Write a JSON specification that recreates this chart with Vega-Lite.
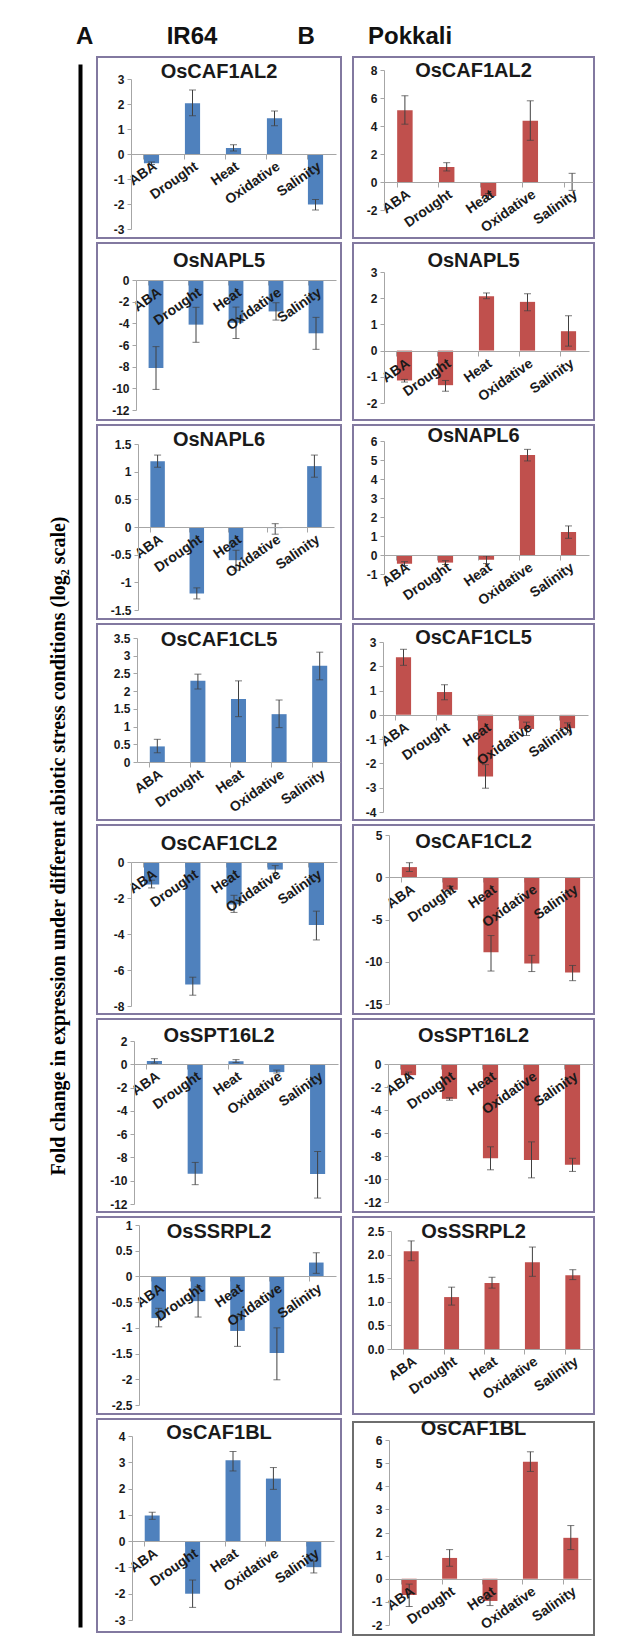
{
"$schema": "https://vega.github.io/schema/vega-lite/v6.json",
"padding": {"left": 48, "top": 25, "right": 5, "bottom": 5},
"title": {"text": "A\u00a0\u00a0\u00a0\u00a0\u00a0\u00a0\u00a0\u00a0\u00a0\u00a0\u00a0IR64\u00a0\u00a0\u00a0\u00a0\u00a0\u00a0\u00a0\u00a0\u00a0\u00a0\u00a0\u00a0B\u00a0\u00a0\u00a0\u00a0\u00a0\u00a0\u00a0\u00a0Pokkali", "anchor": "start", "dx": 28, "offset": 7, "fontSize": 24, "color": "#111111"},
"datasets": {"d": [
{"p":"A1","c":"ABA","v":-0.37,"lo":-0.42,"hi":-0.32},
{"p":"A1","c":"Drought","v":2.03,"lo":1.53,"hi":2.56},
{"p":"A1","c":"Heat","v":0.24,"lo":0.12,"hi":0.37},
{"p":"A1","c":"Oxidative","v":1.43,"lo":1.13,"hi":1.72},
{"p":"A1","c":"Salinity","v":-2.02,"lo":-2.24,"hi":-1.82},
{"p":"B1","c":"ABA","v":5.13,"lo":4.13,"hi":6.16},
{"p":"B1","c":"Drought","v":1.07,"lo":0.79,"hi":1.38},
{"p":"B1","c":"Heat","v":-1.0,"lo":-1.18,"hi":-0.82},
{"p":"B1","c":"Oxidative","v":4.37,"lo":2.98,"hi":5.8},
{"p":"B1","c":"Salinity","v":0,"lo":-0.6,"hi":0.62},
{"p":"A2","c":"ABA","v":-8.12,"lo":-10.1,"hi":-6.15},
{"p":"A2","c":"Drought","v":-4.12,"lo":-5.75,"hi":-2.52},
{"p":"A2","c":"Heat","v":-3.95,"lo":-5.4,"hi":-2.5},
{"p":"A2","c":"Oxidative","v":-2.9,"lo":-3.7,"hi":-2.1},
{"p":"A2","c":"Salinity","v":-4.92,"lo":-6.4,"hi":-3.45},
{"p":"B2","c":"ABA","v":-1.14,"lo":-1.2,"hi":-1.1},
{"p":"B2","c":"Drought","v":-1.32,"lo":-1.55,"hi":-1.14},
{"p":"B2","c":"Heat","v":2.07,"lo":1.98,"hi":2.2},
{"p":"B2","c":"Oxidative","v":1.86,"lo":1.52,"hi":2.17},
{"p":"B2","c":"Salinity","v":0.74,"lo":0.17,"hi":1.33},
{"p":"A3","c":"ABA","v":1.19,"lo":1.08,"hi":1.3},
{"p":"A3","c":"Drought","v":-1.2,"lo":-1.3,"hi":-1.1},
{"p":"A3","c":"Heat","v":-0.6,"lo":-0.78,"hi":-0.42},
{"p":"A3","c":"Oxidative","v":-0.02,"lo":-0.13,"hi":0.06},
{"p":"A3","c":"Salinity","v":1.1,"lo":0.9,"hi":1.3},
{"p":"B3","c":"ABA","v":-0.46,"lo":-0.55,"hi":-0.35},
{"p":"B3","c":"Drought","v":-0.4,"lo":-0.5,"hi":-0.3},
{"p":"B3","c":"Heat","v":-0.25,"lo":-0.45,"hi":-0.05},
{"p":"B3","c":"Oxidative","v":5.26,"lo":4.95,"hi":5.56},
{"p":"B3","c":"Salinity","v":1.21,"lo":0.88,"hi":1.53},
{"p":"A4","c":"ABA","v":0.44,"lo":0.26,"hi":0.64},
{"p":"A4","c":"Drought","v":2.29,"lo":2.06,"hi":2.48},
{"p":"A4","c":"Heat","v":1.78,"lo":1.28,"hi":2.29},
{"p":"A4","c":"Oxidative","v":1.35,"lo":0.97,"hi":1.75},
{"p":"A4","c":"Salinity","v":2.72,"lo":2.32,"hi":3.1},
{"p":"B4","c":"ABA","v":2.37,"lo":2.04,"hi":2.7},
{"p":"B4","c":"Drought","v":0.94,"lo":0.62,"hi":1.24},
{"p":"B4","c":"Heat","v":-2.54,"lo":-3.02,"hi":-2.05},
{"p":"B4","c":"Oxidative","v":-0.58,"lo":-0.85,"hi":-0.3},
{"p":"B4","c":"Salinity","v":-0.55,"lo":-0.74,"hi":-0.33},
{"p":"A5","c":"ABA","v":-1.25,"lo":-1.44,"hi":-1.01},
{"p":"A5","c":"Drought","v":-6.8,"lo":-7.4,"hi":-6.4},
{"p":"A5","c":"Heat","v":-2.36,"lo":-2.8,"hi":-1.85},
{"p":"A5","c":"Oxidative","v":-0.42,"lo":-0.62,"hi":-0.2},
{"p":"A5","c":"Salinity","v":-3.5,"lo":-4.33,"hi":-2.73},
{"p":"B5","c":"ABA","v":1.2,"lo":0.68,"hi":1.72},
{"p":"B5","c":"Drought","v":-1.48,"lo":-1.9,"hi":-1.05},
{"p":"B5","c":"Heat","v":-8.88,"lo":-11.1,"hi":-6.9},
{"p":"B5","c":"Oxidative","v":-10.2,"lo":-11.16,"hi":-9.24},
{"p":"B5","c":"Salinity","v":-11.28,"lo":-12.24,"hi":-10.44},
{"p":"A6","c":"ABA","v":0.29,"lo":0.1,"hi":0.48},
{"p":"A6","c":"Drought","v":-9.4,"lo":-10.34,"hi":-8.43},
{"p":"A6","c":"Heat","v":0.26,"lo":0.15,"hi":0.4},
{"p":"A6","c":"Oxidative","v":-0.67,"lo":-0.75,"hi":-0.5},
{"p":"A6","c":"Salinity","v":-9.43,"lo":-11.49,"hi":-7.49},
{"p":"B6","c":"ABA","v":-0.97,"lo":-1.2,"hi":-0.7},
{"p":"B6","c":"Drought","v":-3.03,"lo":-3.15,"hi":-2.94},
{"p":"B6","c":"Heat","v":-8.2,"lo":-9.2,"hi":-7.2},
{"p":"B6","c":"Oxidative","v":-8.34,"lo":-9.9,"hi":-6.77},
{"p":"B6","c":"Salinity","v":-8.77,"lo":-9.34,"hi":-8.2},
{"p":"A7","c":"ABA","v":-0.81,"lo":-0.98,"hi":-0.62},
{"p":"A7","c":"Drought","v":-0.48,"lo":-0.79,"hi":-0.2},
{"p":"A7","c":"Heat","v":-1.06,"lo":-1.36,"hi":-0.77},
{"p":"A7","c":"Oxidative","v":-1.49,"lo":-2.01,"hi":-1.0},
{"p":"A7","c":"Salinity","v":0.27,"lo":0.06,"hi":0.46},
{"p":"B7","c":"ABA","v":2.07,"lo":1.87,"hi":2.29},
{"p":"B7","c":"Drought","v":1.1,"lo":0.93,"hi":1.31},
{"p":"B7","c":"Heat","v":1.4,"lo":1.29,"hi":1.52},
{"p":"B7","c":"Oxidative","v":1.84,"lo":1.54,"hi":2.16},
{"p":"B7","c":"Salinity","v":1.56,"lo":1.47,"hi":1.68},
{"p":"A8","c":"ABA","v":0.98,"lo":0.83,"hi":1.1},
{"p":"A8","c":"Drought","v":-2.0,"lo":-2.52,"hi":-1.48},
{"p":"A8","c":"Heat","v":3.08,"lo":2.67,"hi":3.41},
{"p":"A8","c":"Oxidative","v":2.38,"lo":1.97,"hi":2.8},
{"p":"A8","c":"Salinity","v":-0.99,"lo":-1.21,"hi":-0.76},
{"p":"B8","c":"ABA","v":-0.7,"lo":-1.2,"hi":-0.23},
{"p":"B8","c":"Drought","v":0.9,"lo":0.54,"hi":1.26},
{"p":"B8","c":"Heat","v":-0.96,"lo":-1.16,"hi":-0.75},
{"p":"B8","c":"Oxidative","v":5.06,"lo":4.64,"hi":5.49},
{"p":"B8","c":"Salinity","v":1.77,"lo":1.26,"hi":2.3}
]},
"data": {"name": "d"},
"spacing": 10,
"hconcat": [
{
 "width": 6, "height": 1572,
 "data": {"values": [{"z": 0}]},
 "view": {"stroke": null},
 "mark": {"type": "rule", "opacity": 0},
 "encoding": {"y": {"field": "z", "type": "quantitative", "scale": {"domain": [0, 1], "range": [1570, 7]}, "axis": {"title": "Fold change in expression under different abiotic stress conditions (log\u2082 scale)", "domainColor": "#000000", "domainWidth": 4, "ticks": false, "labels": false, "titleFont": "Liberation Serif", "titleFontSize": 20, "titleFontWeight": "bold", "titleColor": "#000000", "titlePadding": 12}}}
},
{"spacing": 3, "vconcat": [
{"title": {"text": "OsCAF1AL2", "offset": -25}, "width": 244, "height": 181,
 "transform": [{"filter": "datum.p == 'A1'"}], "resolve": {"axis": {"x": "independent"}},
 "layer": [
  {"mark": {"type": "bar", "color": "#4f81bd"}, "encoding": {
    "x": {"field": "c", "type": "nominal", "scale": {"domain": ["ABA","Drought","Heat","Oxidative","Salinity"], "range": [34, 239], "paddingInner": 0.63, "paddingOuter": 0.315}, "axis": {"orient": "bottom", "offset": -84, "ticks": false, "labelAngle": -35, "zindex": 1, "title": null}},
    "y": {"field": "v", "type": "quantitative", "scale": {"domain": [-3, 3], "range": [172, 22], "nice": false, "zero": false}, "axis": {"orient": "left", "values": [-3,-2,-1,0,1,2,3], "offset": -34, "format": "~g", "zindex": 1, "title": null}}}},
  {"mark": {"type": "errorbar", "ticks": {"size": 7}, "color": "#404040", "thickness": 1}, "encoding": {
    "x": {"field": "c", "type": "nominal", "axis": {"orient": "bottom", "offset": -84, "labels": false, "domain": false, "bandPosition": 0, "tickSize": 5, "title": null}},
    "y": {"field": "lo", "type": "quantitative", "axis": {"orient": "left", "values": [-3,-2,-1,0,1,2,3], "offset": -34, "format": "~g", "zindex": 1, "title": null}}, "y2": {"field": "hi"}}}
 ]},
{"title": {"text": "OsNAPL5", "offset": -28}, "width": 244, "height": 177,
 "transform": [{"filter": "datum.p == 'A2'"}], "resolve": {"axis": {"x": "independent"}},
 "layer": [
  {"mark": {"type": "bar", "color": "#4f81bd"}, "encoding": {
    "x": {"field": "c", "type": "nominal", "scale": {"domain": ["ABA","Drought","Heat","Oxidative","Salinity"], "range": [39, 239], "paddingInner": 0.63, "paddingOuter": 0.315}, "axis": {"orient": "bottom", "offset": -140, "ticks": false, "labelAngle": -35, "zindex": 1, "title": null}},
    "y": {"field": "v", "type": "quantitative", "scale": {"domain": [-12, 0], "range": [167, 37], "nice": false, "zero": false}, "axis": {"orient": "left", "values": [-12,-10,-8,-6,-4,-2,0], "offset": -39, "format": "~g", "zindex": 1, "title": null}}}},
  {"mark": {"type": "errorbar", "ticks": {"size": 7}, "color": "#404040", "thickness": 1}, "encoding": {
    "x": {"field": "c", "type": "nominal", "axis": {"orient": "bottom", "offset": -140, "labels": false, "domain": false, "bandPosition": 0, "tickSize": 5, "title": null}},
    "y": {"field": "lo", "type": "quantitative", "axis": {"orient": "left", "values": [-12,-10,-8,-6,-4,-2,0], "offset": -39, "format": "~g", "zindex": 1, "title": null}}, "y2": {"field": "hi"}}}
 ]},
{"title": {"text": "OsNAPL6", "offset": -25}, "width": 244, "height": 194,
 "transform": [{"filter": "datum.p == 'A3'"}], "resolve": {"axis": {"x": "independent"}},
 "layer": [
  {"mark": {"type": "bar", "color": "#4f81bd"}, "encoding": {
    "x": {"field": "c", "type": "nominal", "scale": {"domain": ["ABA","Drought","Heat","Oxidative","Salinity"], "range": [41, 237], "paddingInner": 0.63, "paddingOuter": 0.315}, "axis": {"orient": "bottom", "offset": -92, "ticks": false, "labelAngle": -35, "zindex": 1, "title": null}},
    "y": {"field": "v", "type": "quantitative", "scale": {"domain": [-1.5, 1.5], "range": [185, 19], "nice": false, "zero": false}, "axis": {"orient": "left", "values": [-1.5,-1,-0.5,0,0.5,1,1.5], "offset": -41, "format": "~g", "zindex": 1, "title": null}}}},
  {"mark": {"type": "errorbar", "ticks": {"size": 7}, "color": "#404040", "thickness": 1}, "encoding": {
    "x": {"field": "c", "type": "nominal", "axis": {"orient": "bottom", "offset": -92, "labels": false, "domain": false, "bandPosition": 0, "tickSize": 5, "title": null}},
    "y": {"field": "lo", "type": "quantitative", "axis": {"orient": "left", "values": [-1.5,-1,-0.5,0,0.5,1,1.5], "offset": -41, "format": "~g", "zindex": 1, "title": null}}, "y2": {"field": "hi"}}}
 ]},
{"title": {"text": "OsCAF1CL5", "offset": -26}, "width": 244, "height": 196,
 "transform": [{"filter": "datum.p == 'A4'"}], "resolve": {"axis": {"x": "independent"}},
 "layer": [
  {"mark": {"type": "bar", "color": "#4f81bd"}, "encoding": {
    "x": {"field": "c", "type": "nominal", "scale": {"domain": ["ABA","Drought","Heat","Oxidative","Salinity"], "range": [40, 243], "paddingInner": 0.63, "paddingOuter": 0.315}, "axis": {"orient": "bottom", "offset": -58, "ticks": false, "labelAngle": -35, "zindex": 1, "title": null}},
    "y": {"field": "v", "type": "quantitative", "scale": {"domain": [0, 3.5], "range": [138, 14], "nice": false, "zero": false}, "axis": {"orient": "left", "values": [0,0.5,1,1.5,2,2.5,3,3.5], "offset": -40, "format": "~g", "zindex": 1, "title": null}}}},
  {"mark": {"type": "errorbar", "ticks": {"size": 7}, "color": "#404040", "thickness": 1}, "encoding": {
    "x": {"field": "c", "type": "nominal", "axis": {"orient": "bottom", "offset": -58, "labels": false, "domain": false, "bandPosition": 0, "tickSize": 5, "title": null}},
    "y": {"field": "lo", "type": "quantitative", "axis": {"orient": "left", "values": [0,0.5,1,1.5,2,2.5,3,3.5], "offset": -40, "format": "~g", "zindex": 1, "title": null}}, "y2": {"field": "hi"}}}
 ]},
{"title": {"text": "OsCAF1CL2", "offset": -29}, "width": 244, "height": 189,
 "transform": [{"filter": "datum.p == 'A5'"}], "resolve": {"axis": {"x": "independent"}},
 "layer": [
  {"mark": {"type": "bar", "color": "#4f81bd"}, "encoding": {
    "x": {"field": "c", "type": "nominal", "scale": {"domain": ["ABA","Drought","Heat","Oxidative","Salinity"], "range": [34, 240], "paddingInner": 0.63, "paddingOuter": 0.315}, "axis": {"orient": "bottom", "offset": -152, "ticks": false, "labelAngle": -35, "zindex": 1, "title": null}},
    "y": {"field": "v", "type": "quantitative", "scale": {"domain": [-8, 0], "range": [181, 37], "nice": false, "zero": false}, "axis": {"orient": "left", "values": [-8,-6,-4,-2,0], "offset": -34, "format": "~g", "zindex": 1, "title": null}}}},
  {"mark": {"type": "errorbar", "ticks": {"size": 7}, "color": "#404040", "thickness": 1}, "encoding": {
    "x": {"field": "c", "type": "nominal", "axis": {"orient": "bottom", "offset": -152, "labels": false, "domain": false, "bandPosition": 0, "tickSize": 5, "title": null}},
    "y": {"field": "lo", "type": "quantitative", "axis": {"orient": "left", "values": [-8,-6,-4,-2,0], "offset": -34, "format": "~g", "zindex": 1, "title": null}}, "y2": {"field": "hi"}}}
 ]},
{"title": {"text": "OsSPT16L2", "offset": -27}, "width": 244, "height": 193,
 "transform": [{"filter": "datum.p == 'A6'"}], "resolve": {"axis": {"x": "independent"}},
 "layer": [
  {"mark": {"type": "bar", "color": "#4f81bd"}, "encoding": {
    "x": {"field": "c", "type": "nominal", "scale": {"domain": ["ABA","Drought","Heat","Oxidative","Salinity"], "range": [37, 241], "paddingInner": 0.63, "paddingOuter": 0.315}, "axis": {"orient": "bottom", "offset": -148, "ticks": false, "labelAngle": -35, "zindex": 1, "title": null}},
    "y": {"field": "v", "type": "quantitative", "scale": {"domain": [-12, 2], "range": [185, 22], "nice": false, "zero": false}, "axis": {"orient": "left", "values": [-12,-10,-8,-6,-4,-2,0,2], "offset": -37, "format": "~g", "zindex": 1, "title": null}}}},
  {"mark": {"type": "errorbar", "ticks": {"size": 7}, "color": "#404040", "thickness": 1}, "encoding": {
    "x": {"field": "c", "type": "nominal", "axis": {"orient": "bottom", "offset": -148, "labels": false, "domain": false, "bandPosition": 0, "tickSize": 5, "title": null}},
    "y": {"field": "lo", "type": "quantitative", "axis": {"orient": "left", "values": [-12,-10,-8,-6,-4,-2,0,2], "offset": -37, "format": "~g", "zindex": 1, "title": null}}, "y2": {"field": "hi"}}}
 ]},
{"title": {"text": "OsSSRPL2", "offset": -25}, "width": 244, "height": 197,
 "transform": [{"filter": "datum.p == 'A7'"}], "resolve": {"axis": {"x": "independent"}},
 "layer": [
  {"mark": {"type": "bar", "color": "#4f81bd"}, "encoding": {
    "x": {"field": "c", "type": "nominal", "scale": {"domain": ["ABA","Drought","Heat","Oxidative","Salinity"], "range": [42, 239], "paddingInner": 0.63, "paddingOuter": 0.315}, "axis": {"orient": "bottom", "offset": -138, "ticks": false, "labelAngle": -35, "zindex": 1, "title": null}},
    "y": {"field": "v", "type": "quantitative", "scale": {"domain": [-2.5, 1], "range": [188, 8], "nice": false, "zero": false}, "axis": {"orient": "left", "values": [-2.5,-2,-1.5,-1,-0.5,0,0.5,1], "offset": -42, "format": "~g", "zindex": 1, "title": null}}}},
  {"mark": {"type": "errorbar", "ticks": {"size": 7}, "color": "#404040", "thickness": 1}, "encoding": {
    "x": {"field": "c", "type": "nominal", "axis": {"orient": "bottom", "offset": -138, "labels": false, "domain": false, "bandPosition": 0, "tickSize": 5, "title": null}},
    "y": {"field": "lo", "type": "quantitative", "axis": {"orient": "left", "values": [-2.5,-2,-1.5,-1,-0.5,0,0.5,1], "offset": -42, "format": "~g", "zindex": 1, "title": null}}, "y2": {"field": "hi"}}}
 ]},
{"title": {"text": "OsCAF1BL", "offset": -24}, "width": 244, "height": 213,
 "transform": [{"filter": "datum.p == 'A8'"}], "resolve": {"axis": {"x": "independent"}},
 "layer": [
  {"mark": {"type": "bar", "color": "#4f81bd"}, "encoding": {
    "x": {"field": "c", "type": "nominal", "scale": {"domain": ["ABA","Drought","Heat","Oxidative","Salinity"], "range": [35, 237], "paddingInner": 0.63, "paddingOuter": 0.315}, "axis": {"orient": "bottom", "offset": -91, "ticks": false, "labelAngle": -35, "zindex": 1, "title": null}},
    "y": {"field": "v", "type": "quantitative", "scale": {"domain": [-3, 4], "range": [201, 17], "nice": false, "zero": false}, "axis": {"orient": "left", "values": [-3,-2,-1,0,1,2,3,4], "offset": -35, "format": "~g", "zindex": 1, "title": null}}}},
  {"mark": {"type": "errorbar", "ticks": {"size": 7}, "color": "#404040", "thickness": 1}, "encoding": {
    "x": {"field": "c", "type": "nominal", "axis": {"orient": "bottom", "offset": -91, "labels": false, "domain": false, "bandPosition": 0, "tickSize": 5, "title": null}},
    "y": {"field": "lo", "type": "quantitative", "axis": {"orient": "left", "values": [-3,-2,-1,0,1,2,3,4], "offset": -35, "format": "~g", "zindex": 1, "title": null}}, "y2": {"field": "hi"}}}
 ]}
]},
{"spacing": 3, "vconcat": [
{"title": {"text": "OsCAF1AL2", "offset": -24}, "width": 241, "height": 181,
 "transform": [{"filter": "datum.p == 'B1'"}], "resolve": {"axis": {"x": "independent"}},
 "layer": [
  {"mark": {"type": "bar", "color": "#c0504d"}, "encoding": {
    "x": {"field": "c", "type": "nominal", "scale": {"domain": ["ABA","Drought","Heat","Oxidative","Salinity"], "range": [31, 240], "paddingInner": 0.63, "paddingOuter": 0.315}, "axis": {"orient": "bottom", "offset": -56, "ticks": false, "labelAngle": -35, "zindex": 1, "title": null}},
    "y": {"field": "v", "type": "quantitative", "scale": {"domain": [-2, 8], "range": [153, 13], "nice": false, "zero": false}, "axis": {"orient": "left", "values": [-2,0,2,4,6,8], "offset": -31, "format": "~g", "zindex": 1, "title": null}}}},
  {"mark": {"type": "errorbar", "ticks": {"size": 7}, "color": "#404040", "thickness": 1}, "encoding": {
    "x": {"field": "c", "type": "nominal", "axis": {"orient": "bottom", "offset": -56, "labels": false, "domain": false, "bandPosition": 0, "tickSize": 5, "title": null}},
    "y": {"field": "lo", "type": "quantitative", "axis": {"orient": "left", "values": [-2,0,2,4,6,8], "offset": -31, "format": "~g", "zindex": 1, "title": null}}, "y2": {"field": "hi"}}}
 ]},
{"title": {"text": "OsNAPL5", "offset": -28}, "width": 241, "height": 177,
 "transform": [{"filter": "datum.p == 'B2'"}], "resolve": {"axis": {"x": "independent"}},
 "layer": [
  {"mark": {"type": "bar", "color": "#c0504d"}, "encoding": {
    "x": {"field": "c", "type": "nominal", "scale": {"domain": ["ABA","Drought","Heat","Oxidative","Salinity"], "range": [31, 236], "paddingInner": 0.63, "paddingOuter": 0.315}, "axis": {"orient": "bottom", "offset": -69, "ticks": false, "labelAngle": -35, "zindex": 1, "title": null}},
    "y": {"field": "v", "type": "quantitative", "scale": {"domain": [-2, 3], "range": [160, 29], "nice": false, "zero": false}, "axis": {"orient": "left", "values": [-2,-1,0,1,2,3], "offset": -31, "format": "~g", "zindex": 1, "title": null}}}},
  {"mark": {"type": "errorbar", "ticks": {"size": 7}, "color": "#404040", "thickness": 1}, "encoding": {
    "x": {"field": "c", "type": "nominal", "axis": {"orient": "bottom", "offset": -69, "labels": false, "domain": false, "bandPosition": 0, "tickSize": 5, "title": null}},
    "y": {"field": "lo", "type": "quantitative", "axis": {"orient": "left", "values": [-2,-1,0,1,2,3], "offset": -31, "format": "~g", "zindex": 1, "title": null}}, "y2": {"field": "hi"}}}
 ]},
{"title": {"text": "OsNAPL6", "offset": -21}, "width": 241, "height": 194,
 "transform": [{"filter": "datum.p == 'B3'"}], "resolve": {"axis": {"x": "independent"}},
 "layer": [
  {"mark": {"type": "bar", "color": "#c0504d"}, "encoding": {
    "x": {"field": "c", "type": "nominal", "scale": {"domain": ["ABA","Drought","Heat","Oxidative","Salinity"], "range": [31, 236], "paddingInner": 0.63, "paddingOuter": 0.315}, "axis": {"orient": "bottom", "offset": -64, "ticks": false, "labelAngle": -35, "zindex": 1, "title": null}},
    "y": {"field": "v", "type": "quantitative", "scale": {"domain": [-1, 6], "range": [149, 16], "nice": false, "zero": false}, "axis": {"orient": "left", "values": [-1,0,1,2,3,4,5,6], "offset": -31, "format": "~g", "zindex": 1, "title": null}}}},
  {"mark": {"type": "errorbar", "ticks": {"size": 7}, "color": "#404040", "thickness": 1}, "encoding": {
    "x": {"field": "c", "type": "nominal", "axis": {"orient": "bottom", "offset": -64, "labels": false, "domain": false, "bandPosition": 0, "tickSize": 5, "title": null}},
    "y": {"field": "lo", "type": "quantitative", "axis": {"orient": "left", "values": [-1,0,1,2,3,4,5,6], "offset": -31, "format": "~g", "zindex": 1, "title": null}}, "y2": {"field": "hi"}}}
 ]},
{"title": {"text": "OsCAF1CL5", "offset": -24}, "width": 241, "height": 196,
 "transform": [{"filter": "datum.p == 'B4'"}], "resolve": {"axis": {"x": "independent"}},
 "layer": [
  {"mark": {"type": "bar", "color": "#c0504d"}, "encoding": {
    "x": {"field": "c", "type": "nominal", "scale": {"domain": ["ABA","Drought","Heat","Oxidative","Salinity"], "range": [30, 235], "paddingInner": 0.63, "paddingOuter": 0.315}, "axis": {"orient": "bottom", "offset": -105, "ticks": false, "labelAngle": -35, "zindex": 1, "title": null}},
    "y": {"field": "v", "type": "quantitative", "scale": {"domain": [-4, 3], "range": [188, 18], "nice": false, "zero": false}, "axis": {"orient": "left", "values": [-4,-3,-2,-1,0,1,2,3], "offset": -30, "format": "~g", "zindex": 1, "title": null}}}},
  {"mark": {"type": "errorbar", "ticks": {"size": 7}, "color": "#404040", "thickness": 1}, "encoding": {
    "x": {"field": "c", "type": "nominal", "axis": {"orient": "bottom", "offset": -105, "labels": false, "domain": false, "bandPosition": 0, "tickSize": 5, "title": null}},
    "y": {"field": "lo", "type": "quantitative", "axis": {"orient": "left", "values": [-4,-3,-2,-1,0,1,2,3], "offset": -30, "format": "~g", "zindex": 1, "title": null}}, "y2": {"field": "hi"}}}
 ]},
{"title": {"text": "OsCAF1CL2", "offset": -27}, "width": 241, "height": 189,
 "transform": [{"filter": "datum.p == 'B5'"}], "resolve": {"axis": {"x": "independent"}},
 "layer": [
  {"mark": {"type": "bar", "color": "#c0504d"}, "encoding": {
    "x": {"field": "c", "type": "nominal", "scale": {"domain": ["ABA","Drought","Heat","Oxidative","Salinity"], "range": [36, 240], "paddingInner": 0.63, "paddingOuter": 0.315}, "axis": {"orient": "bottom", "offset": -137, "ticks": false, "labelAngle": -35, "zindex": 1, "title": null}},
    "y": {"field": "v", "type": "quantitative", "scale": {"domain": [-15, 5], "range": [179, 10], "nice": false, "zero": false}, "axis": {"orient": "left", "values": [-15,-10,-5,0,5], "offset": -36, "format": "~g", "zindex": 1, "title": null}}}},
  {"mark": {"type": "errorbar", "ticks": {"size": 7}, "color": "#404040", "thickness": 1}, "encoding": {
    "x": {"field": "c", "type": "nominal", "axis": {"orient": "bottom", "offset": -137, "labels": false, "domain": false, "bandPosition": 0, "tickSize": 5, "title": null}},
    "y": {"field": "lo", "type": "quantitative", "axis": {"orient": "left", "values": [-15,-10,-5,0,5], "offset": -36, "format": "~g", "zindex": 1, "title": null}}, "y2": {"field": "hi"}}}
 ]},
{"title": {"text": "OsSPT16L2", "offset": -27}, "width": 241, "height": 193,
 "transform": [{"filter": "datum.p == 'B6'"}], "resolve": {"axis": {"x": "independent"}},
 "layer": [
  {"mark": {"type": "bar", "color": "#c0504d"}, "encoding": {
    "x": {"field": "c", "type": "nominal", "scale": {"domain": ["ABA","Drought","Heat","Oxidative","Salinity"], "range": [35, 240], "paddingInner": 0.63, "paddingOuter": 0.315}, "axis": {"orient": "bottom", "offset": -148, "ticks": false, "labelAngle": -35, "zindex": 1, "title": null}},
    "y": {"field": "v", "type": "quantitative", "scale": {"domain": [-12, 0], "range": [183, 45], "nice": false, "zero": false}, "axis": {"orient": "left", "values": [-12,-10,-8,-6,-4,-2,0], "offset": -35, "format": "~g", "zindex": 1, "title": null}}}},
  {"mark": {"type": "errorbar", "ticks": {"size": 7}, "color": "#404040", "thickness": 1}, "encoding": {
    "x": {"field": "c", "type": "nominal", "axis": {"orient": "bottom", "offset": -148, "labels": false, "domain": false, "bandPosition": 0, "tickSize": 5, "title": null}},
    "y": {"field": "lo", "type": "quantitative", "axis": {"orient": "left", "values": [-12,-10,-8,-6,-4,-2,0], "offset": -35, "format": "~g", "zindex": 1, "title": null}}, "y2": {"field": "hi"}}}
 ]},
{"title": {"text": "OsSSRPL2", "offset": -25}, "width": 241, "height": 197,
 "transform": [{"filter": "datum.p == 'B7'"}], "resolve": {"axis": {"x": "independent"}},
 "layer": [
  {"mark": {"type": "bar", "color": "#c0504d"}, "encoding": {
    "x": {"field": "c", "type": "nominal", "scale": {"domain": ["ABA","Drought","Heat","Oxidative","Salinity"], "range": [38, 240], "paddingInner": 0.63, "paddingOuter": 0.315}, "axis": {"orient": "bottom", "offset": -65, "ticks": false, "labelAngle": -35, "zindex": 1, "title": null}},
    "y": {"field": "v", "type": "quantitative", "scale": {"domain": [0, 2.5], "range": [132, 14], "nice": false, "zero": false}, "axis": {"orient": "left", "values": [0,0.5,1,1.5,2,2.5], "offset": -38, "format": ".1f", "zindex": 1, "title": null}}}},
  {"mark": {"type": "errorbar", "ticks": {"size": 7}, "color": "#404040", "thickness": 1}, "encoding": {
    "x": {"field": "c", "type": "nominal", "axis": {"orient": "bottom", "offset": -65, "labels": false, "domain": false, "bandPosition": 0, "tickSize": 5, "title": null}},
    "y": {"field": "lo", "type": "quantitative", "axis": {"orient": "left", "values": [0,0.5,1,1.5,2,2.5], "offset": -38, "format": ".1f", "zindex": 1, "title": null}}, "y2": {"field": "hi"}}}
 ]},
{"title": {"text": "OsCAF1BL", "offset": -17}, "width": 241, "height": 213,
 "view": {"stroke": "#6e6e6e"},
 "transform": [{"filter": "datum.p == 'B8'"}], "resolve": {"axis": {"x": "independent"}},
 "layer": [
  {"mark": {"type": "bar", "color": "#c0504d"}, "encoding": {
    "x": {"field": "c", "type": "nominal", "scale": {"domain": ["ABA","Drought","Heat","Oxidative","Salinity"], "range": [36, 238], "paddingInner": 0.63, "paddingOuter": 0.315}, "axis": {"orient": "bottom", "offset": -56, "ticks": false, "labelAngle": -35, "zindex": 1, "title": null}},
    "y": {"field": "v", "type": "quantitative", "scale": {"domain": [-2, 6], "range": [203, 18], "nice": false, "zero": false}, "axis": {"orient": "left", "values": [-2,-1,0,1,2,3,4,5,6], "offset": -36, "format": "~g", "zindex": 1, "title": null}}}},
  {"mark": {"type": "errorbar", "ticks": {"size": 7}, "color": "#404040", "thickness": 1}, "encoding": {
    "x": {"field": "c", "type": "nominal", "axis": {"orient": "bottom", "offset": -56, "labels": false, "domain": false, "bandPosition": 0, "tickSize": 5, "title": null}},
    "y": {"field": "lo", "type": "quantitative", "axis": {"orient": "left", "values": [-2,-1,0,1,2,3,4,5,6], "offset": -36, "format": "~g", "zindex": 1, "title": null}}, "y2": {"field": "hi"}}}
 ]}
]}
],
"config": {
 "view": {"stroke": "#8279a0", "strokeWidth": 2},
 "axis": {"labelFont": "Liberation Sans", "labelFontWeight": "bold", "labelColor": "#1a1a1a", "domainColor": "#a6a6a6", "tickColor": "#a6a6a6", "grid": false},
 "axisY": {"labelFontSize": 12, "tickSize": 4, "labelPadding": 3},
 "axisX": {"labelFontSize": 14, "labelPadding": 5, "labelOverlap": false},
 "title": {"font": "Liberation Sans", "fontSize": 20, "fontWeight": "bold", "color": "#1a1a1a", "baseline": "alphabetic"},
 "locale": {"number": {"decimal": ".", "thousands": ",", "grouping": [3], "currency": ["$", ""], "minus": "-"}}
}
}
